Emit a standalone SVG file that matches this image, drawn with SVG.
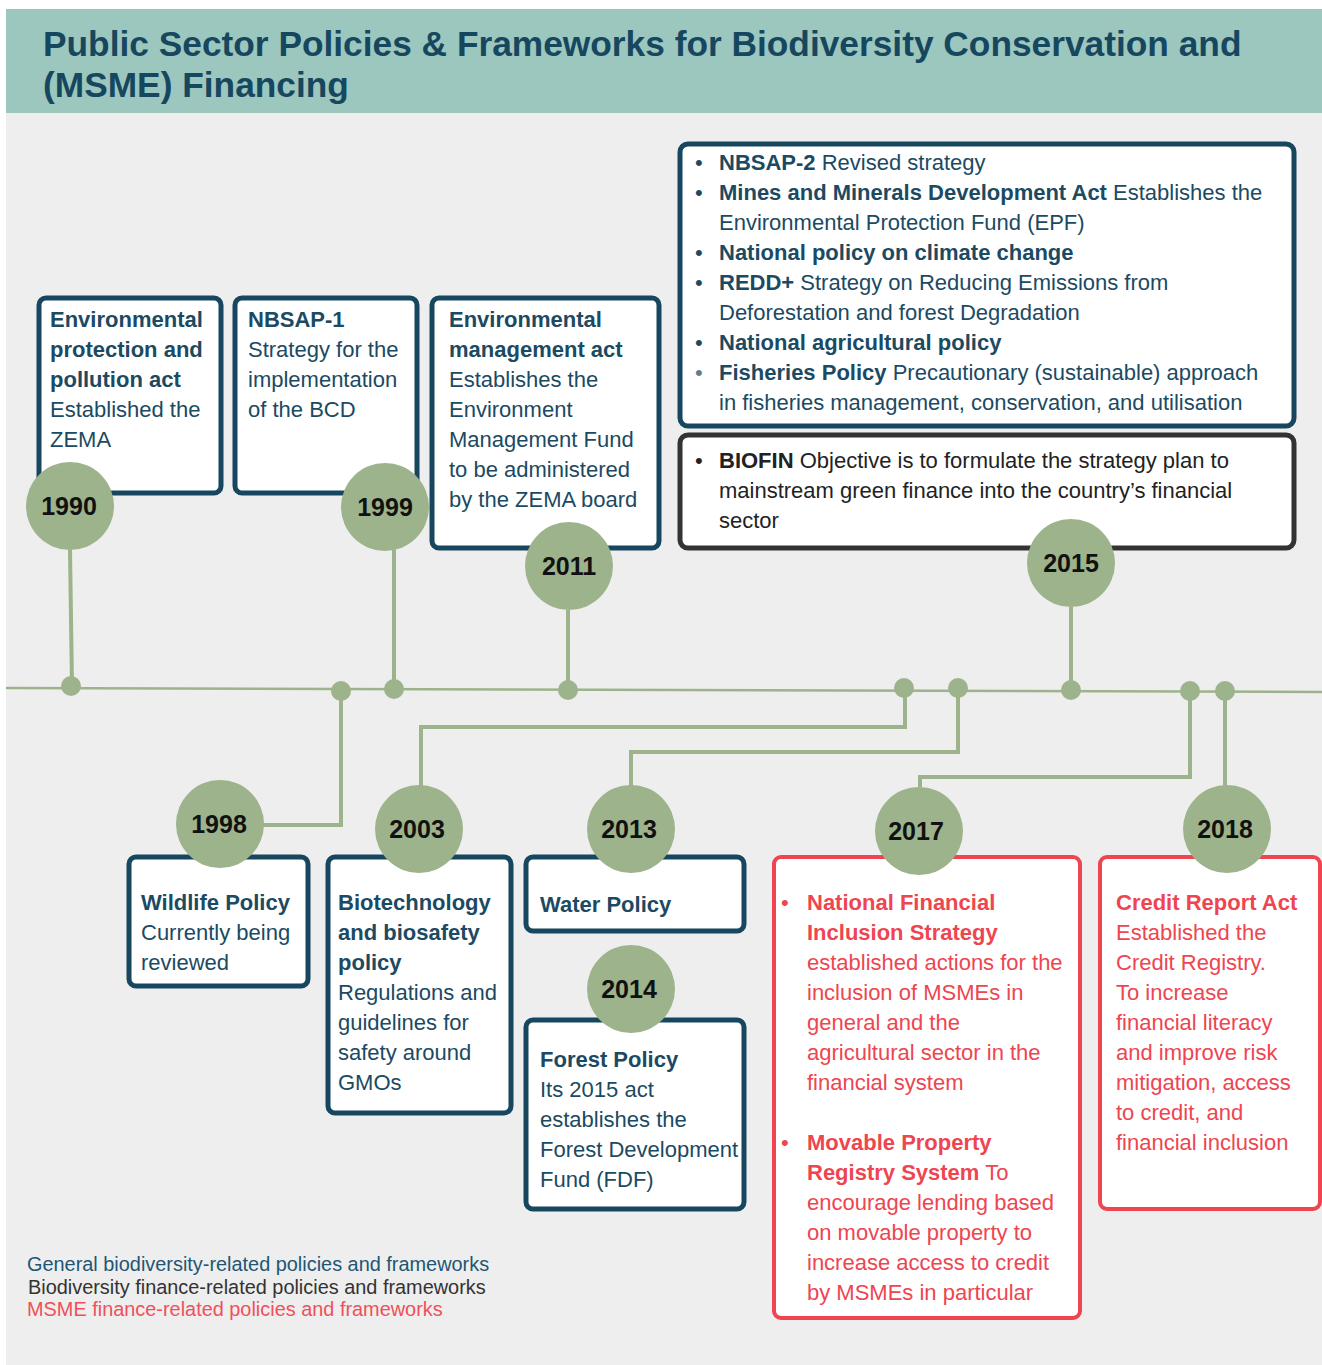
<svg xmlns="http://www.w3.org/2000/svg" width="1322" height="1365" viewBox="0 0 1322 1365">
<style>
text{font-family:"Liberation Sans",Arial,sans-serif;}
.title{font-size:35.3px;font-weight:bold;fill:#17475F;}
.box{fill:#FFFFFF;stroke:#17475F;stroke-width:5;}
.boxk{fill:#FFFFFF;stroke:#333333;stroke-width:5;}
.boxr{fill:#FFFFFF;stroke:#EE4550;stroke-width:4;}
.t{font-size:22px;fill:#1B4A62;}
.tk{font-size:22px;fill:#222222;}
.tr{font-size:22px;fill:#EE4550;}
.b{font-weight:bold;}
.yr{fill:#9DB38B;}
.yt{font-size:25px;font-weight:bold;fill:#111111;text-anchor:middle;}
.con{fill:none;stroke:#9DB38B;stroke-width:4;}
.dot{fill:#9DB38B;}
</style>
<rect x="0" y="0" width="1322" height="1365" fill="#FFFFFF"/>
<rect x="6" y="113" width="1316" height="1252" fill="#EEEEEE"/>
<rect x="6" y="9" width="1316" height="104" fill="#9BC7BE"/>
<text class="title" x="43" y="56">Public Sector Policies &amp; Frameworks for Biodiversity Conservation and</text>
<text class="title" x="43" y="97">(MSME) Financing</text>

<g id="connectors">
<line x1="6" y1="688" x2="1322" y2="692" stroke="#9DB38B" stroke-width="2.5"/>
<polyline class="con" points="70,550 72,686"/>
<polyline class="con" points="394,550 394,689"/>
<polyline class="con" points="568,610 568,690"/>
<polyline class="con" points="1071,607 1071,690"/>
<polyline class="con" points="341,692 341,825 262,825"/>
<polyline class="con" points="905,689 905,727 421,727 421,786"/>
<polyline class="con" points="958,689 958,752 631,752 631,786"/>
<polyline class="con" points="1190,692 1190,777 920,777 920,787"/>
<polyline class="con" points="1225,692 1225,786"/>
<ellipse class="dot" cx="71" cy="686" rx="10" ry="10"/>
<ellipse class="dot" cx="341" cy="691" rx="10" ry="10"/>
<ellipse class="dot" cx="394" cy="689" rx="10" ry="10"/>
<ellipse class="dot" cx="568" cy="690" rx="10" ry="10"/>
<ellipse class="dot" cx="904" cy="688" rx="10" ry="10"/>
<ellipse class="dot" cx="958" cy="688" rx="10" ry="10"/>
<ellipse class="dot" cx="1071" cy="690" rx="10" ry="10"/>
<ellipse class="dot" cx="1190" cy="691" rx="10" ry="10"/>
<ellipse class="dot" cx="1225" cy="691" rx="10" ry="10"/>
</g>

<g id="n1990">
<rect class="box" x="39" y="298" width="182" height="195" rx="7"/>
<text class="t" x="50" y="327"><tspan class="b">Environmental</tspan><tspan class="b" x="50" dy="30">protection and</tspan><tspan class="b" x="50" dy="30">pollution act</tspan><tspan x="50" dy="30">Established the</tspan><tspan x="50" dy="30">ZEMA</tspan></text>
<circle class="yr" cx="70" cy="506" r="44"/>
<text class="yt" x="69" y="515">1990</text>
</g>

<g id="n1999">
<rect class="box" x="235" y="298" width="182" height="195" rx="7"/>
<text class="t" x="248" y="327"><tspan class="b">NBSAP-1</tspan><tspan x="248" dy="30">Strategy for the</tspan><tspan x="248" dy="30">implementation</tspan><tspan x="248" dy="30">of the BCD</tspan></text>
<circle class="yr" cx="385" cy="507" r="44"/>
<text class="yt" x="385" y="516">1999</text>
</g>

<g id="n2011">
<rect class="box" x="432" y="298" width="227" height="250" rx="7"/>
<text class="t" x="449" y="327"><tspan class="b">Environmental</tspan><tspan class="b" x="449" dy="30">management act</tspan><tspan x="449" dy="30">Establishes the</tspan><tspan x="449" dy="30">Environment</tspan><tspan x="449" dy="30">Management Fund</tspan><tspan x="449" dy="30">to be administered</tspan><tspan x="449" dy="30">by the ZEMA board</tspan></text>
<circle class="yr" cx="569" cy="566" r="44"/>
<text class="yt" x="569" y="575">2011</text>
</g>

<g id="n2015">
<rect class="box" x="680" y="144" width="614" height="282" rx="8"/>
<text class="t" x="695" y="170">•</text><text class="t" x="719" y="170"><tspan class="b">NBSAP-2</tspan> Revised strategy</text>
<text class="t" x="695" y="200">•</text><text class="t" x="719" y="200"><tspan class="b">Mines and Minerals Development Act</tspan> Establishes the</text>
<text class="t" x="719" y="230">Environmental Protection Fund (EPF)</text>
<text class="t" x="695" y="260">•</text><text class="t b" x="719" y="260">National policy on climate change</text>
<text class="t" x="695" y="290">•</text><text class="t" x="719" y="290"><tspan class="b">REDD+</tspan> Strategy on Reducing Emissions from</text>
<text class="t" x="719" y="320">Deforestation and forest Degradation</text>
<text class="t" x="695" y="350">•</text><text class="t b" x="719" y="350">National agricultural policy</text>
<text class="t" x="695" y="380" style="fill:#5E7F92">•</text><text class="t" x="719" y="380"><tspan class="b">Fisheries Policy</tspan> Precautionary (sustainable) approach</text>
<text class="t" x="719" y="410">in fisheries management, conservation, and utilisation</text>
<rect class="boxk" x="680" y="435" width="614" height="113" rx="8"/>
<text class="tk" x="695" y="468">•</text><text class="tk" x="719" y="468"><tspan class="b">BIOFIN</tspan> Objective is to formulate the strategy plan to</text>
<text class="tk" x="719" y="498">mainstream green finance into the country’s financial</text>
<text class="tk" x="719" y="528">sector</text>
<circle class="yr" cx="1071" cy="563" r="44"/>
<text class="yt" x="1071" y="572">2015</text>
</g>

<g id="n1998">
<rect class="box" x="129" y="857" width="179" height="129" rx="7"/>
<text class="t" x="141" y="910"><tspan class="b">Wildlife Policy</tspan><tspan x="141" dy="30">Currently being</tspan><tspan x="141" dy="30">reviewed</tspan></text>
<circle class="yr" cx="220" cy="824" r="44"/>
<text class="yt" x="219" y="833">1998</text>
</g>

<g id="n2003">
<rect class="box" x="328" y="857" width="183" height="256" rx="7"/>
<text class="t" x="338" y="910"><tspan class="b">Biotechnology</tspan><tspan class="b" x="338" dy="30">and biosafety</tspan><tspan class="b" x="338" dy="30">policy</tspan><tspan x="338" dy="30">Regulations and</tspan><tspan x="338" dy="30">guidelines for</tspan><tspan x="338" dy="30">safety around</tspan><tspan x="338" dy="30">GMOs</tspan></text>
<circle class="yr" cx="419" cy="829" r="44"/>
<text class="yt" x="417" y="838">2003</text>
</g>

<g id="n2013">
<rect class="box" x="526" y="857" width="218" height="74" rx="7"/>
<text class="t b" x="540" y="912">Water Policy</text>
<circle class="yr" cx="631" cy="829" r="44"/>
<text class="yt" x="629" y="838">2013</text>
</g>

<g id="n2014">
<rect class="box" x="526" y="1020" width="218" height="189" rx="7"/>
<text class="t" x="540" y="1067"><tspan class="b">Forest Policy</tspan><tspan x="540" dy="30">Its 2015 act</tspan><tspan x="540" dy="30">establishes the</tspan><tspan x="540" dy="30">Forest Development</tspan><tspan x="540" dy="30">Fund (FDF)</tspan></text>
<circle class="yr" cx="631" cy="989" r="44"/>
<text class="yt" x="629" y="998">2014</text>
</g>

<g id="n2017">
<rect class="boxr" x="774" y="857" width="306" height="461" rx="7"/>
<text class="tr" x="781" y="910">•</text>
<text class="tr" x="807" y="910"><tspan class="b">National Financial</tspan><tspan class="b" x="807" dy="30">Inclusion Strategy</tspan><tspan x="807" dy="30">established actions for the</tspan><tspan x="807" dy="30">inclusion of MSMEs in</tspan><tspan x="807" dy="30">general and the</tspan><tspan x="807" dy="30">agricultural sector in the</tspan><tspan x="807" dy="30">financial system</tspan></text>
<text class="tr" x="781" y="1150">•</text>
<text class="tr" x="807" y="1150"><tspan class="b">Movable Property</tspan><tspan x="807" dy="30"><tspan class="b">Registry System</tspan> To</tspan><tspan x="807" dy="30">encourage lending based</tspan><tspan x="807" dy="30">on movable property to</tspan><tspan x="807" dy="30">increase access to credit</tspan><tspan x="807" dy="30">by MSMEs in particular</tspan></text>
<circle class="yr" cx="919" cy="831" r="44"/>
<text class="yt" x="916" y="840">2017</text>
</g>

<g id="n2018">
<rect class="boxr" x="1100" y="857" width="220" height="352" rx="7"/>
<text class="tr" x="1116" y="910"><tspan class="b">Credit Report Act</tspan><tspan x="1116" dy="30">Established the</tspan><tspan x="1116" dy="30">Credit Registry.</tspan><tspan x="1116" dy="30">To increase</tspan><tspan x="1116" dy="30">financial literacy</tspan><tspan x="1116" dy="30">and improve risk</tspan><tspan x="1116" dy="30">mitigation, access</tspan><tspan x="1116" dy="30">to credit, and</tspan><tspan x="1116" dy="30">financial inclusion</tspan></text>
<circle class="yr" cx="1227" cy="829" r="44"/>
<text class="yt" x="1225" y="838">2018</text>
</g>

<g id="legend">
<text x="27" y="1271" font-size="19.9" fill="#1F5673">General biodiversity-related policies and frameworks</text>
<text x="28" y="1294" font-size="19.9" fill="#333333">Biodiversity finance-related policies and frameworks</text>
<text x="27" y="1316" font-size="19.9" fill="#F0505A">MSME finance-related policies and frameworks</text>
</g>
</svg>
